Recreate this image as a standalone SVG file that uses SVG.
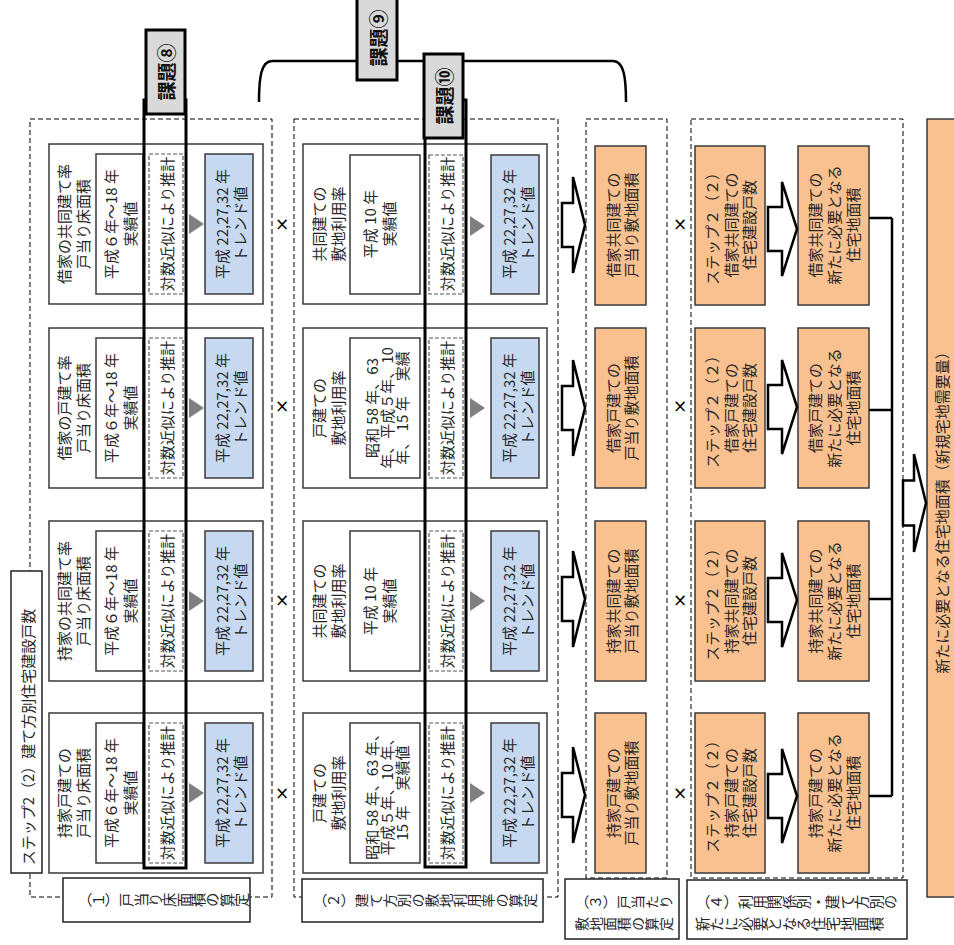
<svg xmlns="http://www.w3.org/2000/svg" width="954" height="945" viewBox="0 0 954 945">
<style>
  .t { font-family: "Noto Sans CJK JP", "Noto Sans CJK SC", sans-serif; font-size: 15px; fill: #262626; text-anchor: middle; dominant-baseline: central; }
  .v { font-family: "Noto Sans CJK JP", "Noto Sans CJK SC", sans-serif; font-size: 14px; fill: #262626; text-anchor: start; font-feature-settings: "vert" 1; }
  .k { font-family: "Noto Sans CJK JP", "Noto Sans CJK SC", sans-serif; font-size: 19px; font-weight: bold; fill: #111; text-anchor: middle; dominant-baseline: central; }
  .x { font-family: "DejaVu Sans", sans-serif; font-size: 17px; fill: #000; text-anchor: middle; dominant-baseline: central; }
  .frame { fill: none; stroke: #000; stroke-width: 1; stroke-dasharray: 5 3; }
  .box { fill: #fff; stroke: #3a3a3a; stroke-width: 1.5; }
  .inner { fill: #fff; stroke: #3a3a3a; stroke-width: 1.5; }
  .dash { fill: #fff; stroke: #555; stroke-width: 1.2; stroke-dasharray: 4 2; }
  .blue { fill: #c6d9f1; stroke: #3a3a3a; stroke-width: 1.5; }
  .orange { fill: #f9c190; stroke: #3a3a3a; stroke-width: 1.5; }
  .label { fill: #fff; stroke: #222; stroke-width: 1.5; }
  .issue { fill: #d9d9d9; stroke: #000; stroke-width: 3; }
  .band { fill: none; stroke: #000; stroke-width: 3; }
  .hollow { fill: #fff; stroke: #000; stroke-width: 2.5; stroke-linejoin: miter; }
  .line { fill: none; stroke: #000; stroke-width: 2.5; }
</style>
<defs>
  <path id="arrowA" class="hollow" d="M0,-22 H11 V-48 L23,0 L11,48 V22 H0 Z"/>
  <path id="arrowB" class="hollow" d="M0,-22 H14 V-47 L29,0 L14,47 V22 H0 Z"/>
  <path id="tri" d="M0,-10 L15,0 L0,10 Z" fill="#7f7f7f"/>
</defs>

<rect x="0" y="0" width="954" height="945" fill="#fff"/>

<!-- dashed frames of the four steps -->
<g id="frames">
  <rect class="frame" x="30" y="119" width="242" height="778"/>
  <rect class="frame" x="294" y="119" width="264" height="778"/>
  <rect class="frame" x="586" y="119" width="81" height="759"/>
  <rect class="frame" x="691" y="119" width="212" height="759"/>
</g>

<!-- step (1): floor area per dwelling -->
<g id="n1-1">
  <rect class="box" x="49" y="144" width="214" height="160"/>
  <text class="t" x="63" y="224" transform="rotate(-90 63 224)">借家の共同建て率</text>
  <text class="t" x="82" y="224" transform="rotate(-90 82 224)">戸当り床面積</text>
  <rect class="inner" x="96" y="154" width="47" height="140"/>
  <text class="t" x="110" y="224" transform="rotate(-90 110 224)">平成６年～18 年</text>
  <text class="t" x="129" y="224" transform="rotate(-90 129 224)">実績値</text>
  <rect class="dash" x="149" y="154" width="34" height="140"/>
  <text class="t" x="166" y="224" transform="rotate(-90 166 224)">対数近似により推計</text>
  <use href="#tri" x="189" y="224"/>
  <rect class="blue" x="205" y="154" width="48" height="140"/>
  <text class="t" x="221" y="224" transform="rotate(-90 221 224)">平成 22,27,32 年</text>
  <text class="t" x="239" y="224" transform="rotate(-90 239 224)">トレンド値</text>
</g>
<g id="n1-2">
  <rect class="box" x="49" y="328" width="214" height="160"/>
  <text class="t" x="63" y="408" transform="rotate(-90 63 408)">借家の戸建て率</text>
  <text class="t" x="82" y="408" transform="rotate(-90 82 408)">戸当り床面積</text>
  <rect class="inner" x="96" y="338" width="47" height="140"/>
  <text class="t" x="110" y="408" transform="rotate(-90 110 408)">平成６年～18 年</text>
  <text class="t" x="129" y="408" transform="rotate(-90 129 408)">実績値</text>
  <rect class="dash" x="149" y="338" width="34" height="140"/>
  <text class="t" x="166" y="408" transform="rotate(-90 166 408)">対数近似により推計</text>
  <use href="#tri" x="189" y="408"/>
  <rect class="blue" x="205" y="338" width="48" height="140"/>
  <text class="t" x="221" y="408" transform="rotate(-90 221 408)">平成 22,27,32 年</text>
  <text class="t" x="239" y="408" transform="rotate(-90 239 408)">トレンド値</text>
</g>
<g id="n1-3">
  <rect class="box" x="49" y="521" width="214" height="160"/>
  <text class="t" x="63" y="601" transform="rotate(-90 63 601)">持家の共同建て率</text>
  <text class="t" x="82" y="601" transform="rotate(-90 82 601)">戸当り床面積</text>
  <rect class="inner" x="96" y="531" width="47" height="140"/>
  <text class="t" x="110" y="601" transform="rotate(-90 110 601)">平成６年～18 年</text>
  <text class="t" x="129" y="601" transform="rotate(-90 129 601)">実績値</text>
  <rect class="dash" x="149" y="531" width="34" height="140"/>
  <text class="t" x="166" y="601" transform="rotate(-90 166 601)">対数近似により推計</text>
  <use href="#tri" x="189" y="601"/>
  <rect class="blue" x="205" y="531" width="48" height="140"/>
  <text class="t" x="221" y="601" transform="rotate(-90 221 601)">平成 22,27,32 年</text>
  <text class="t" x="239" y="601" transform="rotate(-90 239 601)">トレンド値</text>
</g>
<g id="n1-4">
  <rect class="box" x="49" y="713" width="214" height="160"/>
  <text class="t" x="63" y="793" transform="rotate(-90 63 793)">持家戸建ての</text>
  <text class="t" x="82" y="793" transform="rotate(-90 82 793)">戸当り床面積</text>
  <rect class="inner" x="96" y="723" width="47" height="140"/>
  <text class="t" x="110" y="793" transform="rotate(-90 110 793)">平成６年～18 年</text>
  <text class="t" x="129" y="793" transform="rotate(-90 129 793)">実績値</text>
  <rect class="dash" x="149" y="723" width="34" height="140"/>
  <text class="t" x="166" y="793" transform="rotate(-90 166 793)">対数近似により推計</text>
  <use href="#tri" x="189" y="793"/>
  <rect class="blue" x="205" y="723" width="48" height="140"/>
  <text class="t" x="221" y="793" transform="rotate(-90 221 793)">平成 22,27,32 年</text>
  <text class="t" x="239" y="793" transform="rotate(-90 239 793)">トレンド値</text>
</g>

<!-- step (2): site use ratio by building type -->
<g id="n2-1">
  <rect class="box" x="303" y="144" width="244" height="160"/>
  <text class="t" x="318" y="224" transform="rotate(-90 318 224)">共同建ての</text>
  <text class="t" x="337" y="224" transform="rotate(-90 337 224)">敷地利用率</text>
  <rect class="inner" x="350" y="155" width="70" height="139"/>
  <text class="t" x="369" y="224" transform="rotate(-90 369 224)">平成 10 年</text>
  <text class="t" x="388" y="224" transform="rotate(-90 388 224)">実績値</text>
  <rect class="dash" x="429" y="155" width="34" height="139"/>
  <text class="t" x="446" y="224" transform="rotate(-90 446 224)">対数近似により推計</text>
  <use href="#tri" x="470" y="226"/>
  <rect class="blue" x="491" y="155" width="48" height="139"/>
  <text class="t" x="508" y="224" transform="rotate(-90 508 224)">平成 22,27,32 年</text>
  <text class="t" x="526" y="224" transform="rotate(-90 526 224)">トレンド値</text>
</g>
<g id="n2-2">
  <rect class="box" x="303" y="328" width="244" height="160"/>
  <text class="t" x="318" y="408" transform="rotate(-90 318 408)">戸建ての</text>
  <text class="t" x="337" y="408" transform="rotate(-90 337 408)">敷地利用率</text>
  <rect class="inner" x="350" y="338" width="70" height="140"/>
  <text class="t" x="371" y="408" transform="rotate(-90 371 408)">昭和 58 年、63</text>
  <text class="t" x="386" y="408" transform="rotate(-90 386 408)">年、平成５年、10</text>
  <text class="t" x="401" y="408" transform="rotate(-90 401 408)">年、 15 年　実績</text>
  <rect class="dash" x="429" y="338" width="34" height="140"/>
  <text class="t" x="446" y="408" transform="rotate(-90 446 408)">対数近似により推計</text>
  <use href="#tri" x="470" y="408"/>
  <rect class="blue" x="491" y="338" width="48" height="140"/>
  <text class="t" x="508" y="408" transform="rotate(-90 508 408)">平成 22,27,32 年</text>
  <text class="t" x="526" y="408" transform="rotate(-90 526 408)">トレンド値</text>
</g>
<g id="n2-3">
  <rect class="box" x="303" y="521" width="244" height="160"/>
  <text class="t" x="318" y="601" transform="rotate(-90 318 601)">共同建ての</text>
  <text class="t" x="337" y="601" transform="rotate(-90 337 601)">敷地利用率</text>
  <rect class="inner" x="350" y="531" width="70" height="140"/>
  <text class="t" x="369" y="601" transform="rotate(-90 369 601)">平成 10 年</text>
  <text class="t" x="388" y="601" transform="rotate(-90 388 601)">実績値</text>
  <rect class="dash" x="429" y="531" width="34" height="140"/>
  <text class="t" x="446" y="601" transform="rotate(-90 446 601)">対数近似により推計</text>
  <use href="#tri" x="470" y="601"/>
  <rect class="blue" x="491" y="531" width="48" height="140"/>
  <text class="t" x="508" y="601" transform="rotate(-90 508 601)">平成 22,27,32 年</text>
  <text class="t" x="526" y="601" transform="rotate(-90 526 601)">トレンド値</text>
</g>
<g id="n2-4">
  <rect class="box" x="303" y="713" width="244" height="160"/>
  <text class="t" x="318" y="793" transform="rotate(-90 318 793)">戸建ての</text>
  <text class="t" x="337" y="793" transform="rotate(-90 337 793)">敷地利用率</text>
  <rect class="inner" x="350" y="723" width="70" height="140"/>
  <text class="t" x="371" y="793" transform="rotate(-90 371 793)">昭和 58 年、63 年、</text>
  <text class="t" x="386" y="793" transform="rotate(-90 386 793)">平成５年、10 年、</text>
  <text class="t" x="401" y="793" transform="rotate(-90 401 793)">15 年　実績値</text>
  <rect class="dash" x="429" y="723" width="34" height="140"/>
  <text class="t" x="446" y="793" transform="rotate(-90 446 793)">対数近似により推計</text>
  <use href="#tri" x="470" y="793"/>
  <rect class="blue" x="491" y="723" width="48" height="140"/>
  <text class="t" x="508" y="793" transform="rotate(-90 508 793)">平成 22,27,32 年</text>
  <text class="t" x="526" y="793" transform="rotate(-90 526 793)">トレンド値</text>
</g>

<!-- step (3): site area per dwelling -->
<g id="n3-1">
  <rect class="orange" x="595" y="146" width="51" height="159"/>
  <text class="t" x="612" y="225" transform="rotate(-90 612 225)">借家共同建ての</text>
  <text class="t" x="630" y="225" transform="rotate(-90 630 225)">戸当り敷地面積</text>
</g>
<g id="n3-2">
  <rect class="orange" x="595" y="328" width="51" height="160"/>
  <text class="t" x="612" y="408" transform="rotate(-90 612 408)">借家戸建ての</text>
  <text class="t" x="630" y="408" transform="rotate(-90 630 408)">戸当り敷地面積</text>
</g>
<g id="n3-3">
  <rect class="orange" x="595" y="521" width="51" height="160"/>
  <text class="t" x="612" y="601" transform="rotate(-90 612 601)">持家共同建ての</text>
  <text class="t" x="630" y="601" transform="rotate(-90 630 601)">戸当り敷地面積</text>
</g>
<g id="n3-4">
  <rect class="orange" x="595" y="713" width="51" height="160"/>
  <text class="t" x="612" y="793" transform="rotate(-90 612 793)">持家戸建ての</text>
  <text class="t" x="630" y="793" transform="rotate(-90 630 793)">戸当り敷地面積</text>
</g>

<!-- step (4): dwelling counts and resulting residential land -->
<g id="n4a-1">
  <rect class="orange" x="695" y="146" width="70" height="159"/>
  <text class="t" x="711" y="225" transform="rotate(-90 711 225)">ステップ２（２）</text>
  <text class="t" x="730" y="225" transform="rotate(-90 730 225)">借家共同建ての</text>
  <text class="t" x="748" y="225" transform="rotate(-90 748 225)">住宅建設戸数</text>
</g>
<g id="n4a-2">
  <rect class="orange" x="695" y="328" width="70" height="160"/>
  <text class="t" x="711" y="408" transform="rotate(-90 711 408)">ステップ２（２）</text>
  <text class="t" x="730" y="408" transform="rotate(-90 730 408)">借家戸建ての</text>
  <text class="t" x="748" y="408" transform="rotate(-90 748 408)">住宅建設戸数</text>
</g>
<g id="n4a-3">
  <rect class="orange" x="695" y="521" width="70" height="160"/>
  <text class="t" x="711" y="601" transform="rotate(-90 711 601)">ステップ２（２）</text>
  <text class="t" x="730" y="601" transform="rotate(-90 730 601)">持家共同建ての</text>
  <text class="t" x="748" y="601" transform="rotate(-90 748 601)">住宅建設戸数</text>
</g>
<g id="n4a-4">
  <rect class="orange" x="695" y="713" width="70" height="160"/>
  <text class="t" x="711" y="793" transform="rotate(-90 711 793)">ステップ２（２）</text>
  <text class="t" x="730" y="793" transform="rotate(-90 730 793)">持家戸建ての</text>
  <text class="t" x="748" y="793" transform="rotate(-90 748 793)">住宅建設戸数</text>
</g>
<g id="n4b-1">
  <rect class="orange" x="798" y="146" width="71" height="159"/>
  <text class="t" x="814" y="225" transform="rotate(-90 814 225)">借家共同建ての</text>
  <text class="t" x="833" y="225" transform="rotate(-90 833 225)">新たに必要となる</text>
  <text class="t" x="852" y="225" transform="rotate(-90 852 225)">住宅地面積</text>
</g>
<g id="n4b-2">
  <rect class="orange" x="798" y="328" width="71" height="160"/>
  <text class="t" x="814" y="408" transform="rotate(-90 814 408)">借家戸建ての</text>
  <text class="t" x="833" y="408" transform="rotate(-90 833 408)">新たに必要となる</text>
  <text class="t" x="852" y="408" transform="rotate(-90 852 408)">住宅地面積</text>
</g>
<g id="n4b-3">
  <rect class="orange" x="798" y="521" width="71" height="160"/>
  <text class="t" x="814" y="601" transform="rotate(-90 814 601)">持家共同建ての</text>
  <text class="t" x="833" y="601" transform="rotate(-90 833 601)">新たに必要となる</text>
  <text class="t" x="852" y="601" transform="rotate(-90 852 601)">住宅地面積</text>
</g>
<g id="n4b-4">
  <rect class="orange" x="798" y="713" width="71" height="160"/>
  <text class="t" x="814" y="793" transform="rotate(-90 814 793)">持家戸建ての</text>
  <text class="t" x="833" y="793" transform="rotate(-90 833 793)">新たに必要となる</text>
  <text class="t" x="852" y="793" transform="rotate(-90 852 793)">住宅地面積</text>
</g>

<!-- total new residential land demand -->
<g id="total">
  <rect class="orange" x="927" y="119" width="40" height="778"/>
  <text class="t" x="941" y="509" transform="rotate(-90 941 509)">新たに必要となる住宅地面積（新規宅地需要量）</text>
</g>

<!-- multiplication signs -->
<g id="times">
  <text class="x" x="282" y="224">×</text>
  <text class="x" x="282" y="406">×</text>
  <text class="x" x="282" y="600">×</text>
  <text class="x" x="282" y="793">×</text>
  <text class="x" x="680" y="224">×</text>
  <text class="x" x="680" y="406">×</text>
  <text class="x" x="680" y="600">×</text>
  <text class="x" x="680" y="793">×</text>
</g>

<!-- connectors -->
<g id="connectors">
  <use href="#arrowA" x="562" y="225"/>
  <use href="#arrowA" x="562" y="408"/>
  <use href="#arrowA" x="562" y="599"/>
  <use href="#arrowA" x="562" y="795"/>
  <use href="#arrowB" x="768" y="229"/>
  <use href="#arrowB" x="768" y="407"/>
  <use href="#arrowB" x="768" y="600"/>
  <use href="#arrowB" x="768" y="796"/>
  <path class="line" d="M869,218 H892 M869,410 H892 M869,599 H892 M869,796 H892 M892,218 V796"/>
  <path class="hollow" d="M903,480.5 H914 V454 L926,503 L914,552 V525.5 H903 Z"/>
  <path class="line" d="M259,102 C259,78 261,61 272,61 L613,61 C624,61 626,78 626,102"/>
</g>

<!-- step captions: glyphs turned a quarter turn, read left to right -->
<g id="caption-step2">
  <rect class="label" x="11" y="571" width="31" height="302"/>
  <text class="t" x="27" y="737" font-size="14" transform="rotate(-90 27 737)">ステップ2（2）建て方別住宅建設戸数</text>
</g>
<g id="caption-1">
  <rect class="label" x="63" y="878" width="187" height="44"/>
  <text class="v" x="89.6" y="907" rotate="-90" style="font-size:14.3px">（１）戸当り床面積の算定</text>
</g>
<g id="caption-2">
  <rect class="label" x="302" y="879" width="241" height="43"/>
  <text class="v" x="325.3" y="907.5" rotate="-90">（２）建て方別の敷地利用率の算定</text>
</g>
<g id="caption-3">
  <rect class="label" x="565" y="879" width="114" height="60"/>
  <text class="v" x="587.3" y="909" rotate="-90">（３）戸当たり</text>
  <text class="v" x="587.3" y="931" rotate="-90">敷地面積の算定</text>
</g>
<g id="caption-4">
  <rect class="label" x="687" y="880" width="220" height="59"/>
  <text class="v" x="707.8" y="909.3" rotate="-90" style="font-size:14.5px">（４）利用関係別・建て方別の</text>
  <text class="v" x="707.8" y="931.3" rotate="-90" style="font-size:14.5px">新たに必要となる住宅地面積</text>
</g>

<!-- issue bands and tags -->
<g id="issue8">
  <rect class="band" x="144" y="100" width="42" height="768"/>
  <rect class="issue" x="146" y="30" width="39" height="84"/>
  <text class="k" x="165" y="72" transform="rotate(-90 165 72)">課題⑧</text>
</g>
<g id="issue10">
  <rect class="band" x="425" y="100" width="41" height="767"/>
  <rect class="issue" x="424" y="54" width="39" height="84"/>
  <text class="k" x="443" y="96" transform="rotate(-90 443 96)">課題⑩</text>
</g>
<g id="issue9">
  <rect class="issue" x="357" y="-3" width="40" height="83"/>
  <text class="k" x="377" y="38" transform="rotate(-90 377 38)">課題⑨</text>
</g>
</svg>
